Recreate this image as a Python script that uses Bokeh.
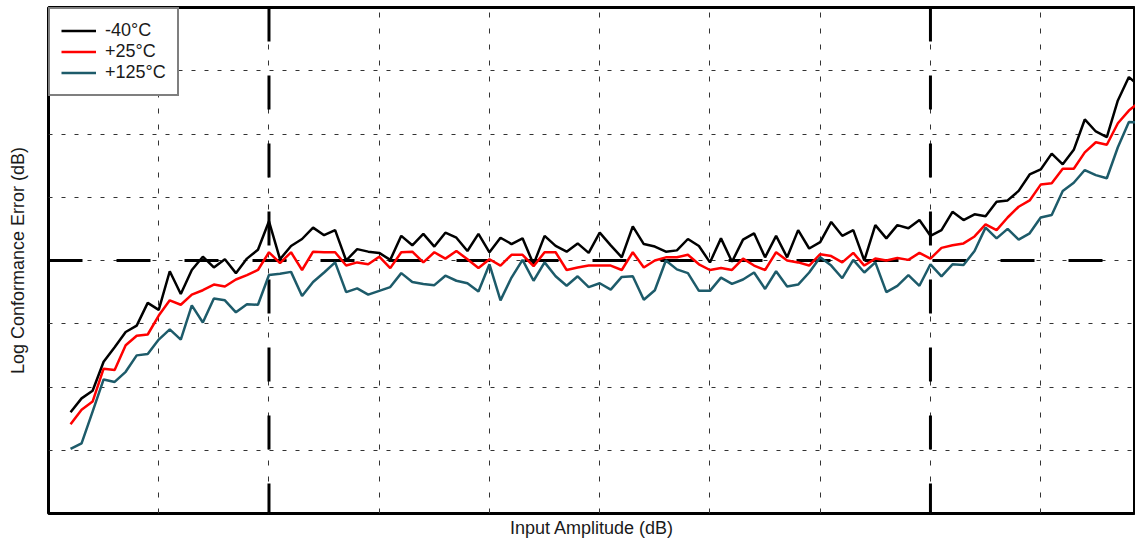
from bokeh.plotting import figure
from bokeh.models import Range1d, FixedTicker
from bokeh.embed import file_html
from bokeh.resources import INLINE
import numpy as np

# Input amplitude sample grid (axis units, no tick labels shown in the original)
amplitude = np.round(np.arange(0.2, 10.05, 0.1), 1).tolist()

err_m40 = [-2.40, -2.18, -2.06, -1.60, -1.37, -1.13, -1.03, -0.67, -0.78, -0.17,
           -0.53, -0.15, 0.06, -0.11, 0.02, -0.20, 0.03, 0.17, 0.62, 0.02,
           0.23, 0.34, 0.52, 0.40, 0.48, 0.00, 0.18, 0.14, 0.12, 0.01,
           0.39, 0.24, 0.42, 0.22, 0.44, 0.36, 0.15, 0.42, 0.13, 0.36,
           0.26, 0.35, -0.06, 0.39, 0.23, 0.14, 0.27, 0.12, 0.44, 0.24,
           0.05, 0.54, 0.26, 0.22, 0.14, 0.16, 0.34, 0.23, -0.03, 0.35,
           -0.02, 0.33, 0.43, 0.05, 0.39, 0.05, 0.48, 0.19, 0.29, 0.61,
           0.39, 0.48, 0.00, 0.56, 0.35, 0.56, 0.51, 0.64, 0.39, 0.48,
           0.77, 0.64, 0.73, 0.70, 0.93, 0.95, 1.10, 1.36, 1.44, 1.69,
           1.52, 1.75, 2.23, 2.04, 1.95, 2.53, 2.90, 2.75, 2.85]

err_p25 = [-2.59, -2.36, -2.23, -1.71, -1.73, -1.34, -1.19, -1.17, -0.87, -0.63,
           -0.70, -0.54, -0.47, -0.38, -0.41, -0.30, -0.23, -0.15, 0.13, -0.04,
           0.13, -0.15, 0.14, 0.13, 0.13, -0.08, -0.03, -0.06, 0.06, -0.12,
           0.13, 0.14, -0.03, 0.13, 0.03, 0.15, 0.02, -0.12, 0.02, -0.08,
           0.09, 0.09, -0.09, 0.13, 0.13, -0.15, -0.11, -0.08, -0.08, -0.08,
           -0.15, 0.13, -0.11, 0.00, 0.05, 0.05, 0.09, -0.06, -0.15, -0.12,
           -0.15, 0.03, -0.08, -0.15, 0.13, 0.00, -0.03, -0.08, 0.10, 0.07,
           -0.03, 0.12, -0.08, 0.03, 0.00, 0.04, 0.01, 0.12, 0.03, 0.20,
           0.24, 0.27, 0.38, 0.57, 0.48, 0.68, 0.85, 0.95, 1.20, 1.22,
           1.45, 1.45, 1.71, 1.87, 1.83, 2.17, 2.37, 2.51, 2.57]

err_p125 = [-2.98, -2.89, -2.39, -1.88, -1.92, -1.76, -1.50, -1.48, -1.25, -1.09,
            -1.25, -0.71, -0.98, -0.60, -0.63, -0.82, -0.69, -0.70, -0.23, -0.21,
            -0.18, -0.56, -0.34, -0.19, -0.03, -0.50, -0.44, -0.54, -0.48, -0.42,
            -0.20, -0.34, -0.37, -0.39, -0.24, -0.32, -0.36, -0.49, -0.06, -0.63,
            -0.27, 0.01, -0.32, -0.03, -0.25, -0.40, -0.25, -0.42, -0.36, -0.46,
            -0.26, -0.25, -0.62, -0.47, 0.00, -0.14, -0.20, -0.48, -0.48, -0.27,
            -0.37, -0.30, -0.19, -0.45, -0.17, -0.41, -0.38, -0.19, 0.05, -0.08,
            -0.28, 0.01, -0.19, -0.03, -0.50, -0.40, -0.23, -0.40, -0.06, -0.25,
            -0.06, -0.07, 0.15, 0.52, 0.35, 0.50, 0.33, 0.43, 0.68, 0.72,
            1.10, 1.23, 1.43, 1.35, 1.30, 1.79, 2.19, 2.18, 1.97]

series_labels = ["-40\u00b0C", "+25\u00b0C", "+125\u00b0C"]
series_colors = ["#000000", "#ff0000", "#1d5b6a"]

grid_x = [1, 2, 3, 4, 5, 6, 7, 8, 9]
grid_y = [-3, -2, -1, 0, 1, 2, 3]
ref_x = [2, 8]
ref_y = [0]

X_MIN, X_MAX = 0, 9.86
Y_MIN, Y_MAX = -4, 4
FONT = "Liberation Sans"

p = figure(width=1135, height=540, output_backend="svg", toolbar_location=None,
           x_range=Range1d(X_MIN, X_MAX), y_range=Range1d(Y_MIN, Y_MAX),
           min_border_left=48, min_border_right=0, min_border_top=7,
           min_border_bottom=24)

p.outline_line_color = "black"
p.outline_line_width = 3
p.background_fill_color = "white"
p.border_fill_color = "white"

for ax in (p.xaxis, p.yaxis):
    ax.ticker = FixedTicker(ticks=[])
    ax.axis_line_color = None
    ax.major_tick_line_color = None
    ax.minor_tick_line_color = None
    ax.major_tick_out = 0
    ax.major_tick_in = 0
    ax.minor_tick_out = 0
    ax.axis_label_text_font = FONT
    ax.axis_label_text_font_size = "18px"
    ax.axis_label_text_font_style = "normal"
    ax.axis_label_text_color = "#1a1a1a"

p.xaxis.axis_label = "Input Amplitude (dB)"
p.yaxis.axis_label = "Log Conformance Error (dB)"
p.xaxis.axis_label_standoff = 4
p.yaxis.axis_label_standoff = 21

p.xgrid.ticker = FixedTicker(ticks=grid_x)
p.ygrid.ticker = FixedTicker(ticks=grid_y)
p.xgrid.grid_line_color = "#333333"
p.xgrid.grid_line_width = 1
p.xgrid.grid_line_dash = "5 11"
p.ygrid.grid_line_color = "#333333"
p.ygrid.grid_line_width = 1
p.ygrid.grid_line_dash = "4 9"

# thick dashed reference lines
p.segment(x0=ref_x, y0=[Y_MAX] * len(ref_x), x1=ref_x, y1=[Y_MIN] * len(ref_x),
          line_color="black", line_width=3, line_dash="34 34")
p.segment(x0=[X_MIN] * len(ref_y), y0=ref_y, x1=[X_MAX] * len(ref_y), y1=ref_y,
          line_color="black", line_width=3, line_dash="34 34")

for ys, lab, col in zip([err_m40, err_p25, err_p125], series_labels, series_colors):
    p.line(amplitude, ys, line_color=col, line_width=2.5, legend_label=lab)

lg = p.legend[0]
lg.location = "top_left"
lg.margin = 0
lg.padding = 11
lg.spacing = 0
lg.glyph_width = 35
lg.glyph_height = 21
lg.label_height = 21
lg.label_standoff = 9
lg.label_text_font = FONT
lg.label_text_font_size = "18px"
lg.label_text_color = "#1a1a1a"
lg.border_line_color = "black"
lg.border_line_width = 2
lg.background_fill_color = "white"
lg.background_fill_alpha = 1.0

open("out.html", "w").write(file_html(p, INLINE))
